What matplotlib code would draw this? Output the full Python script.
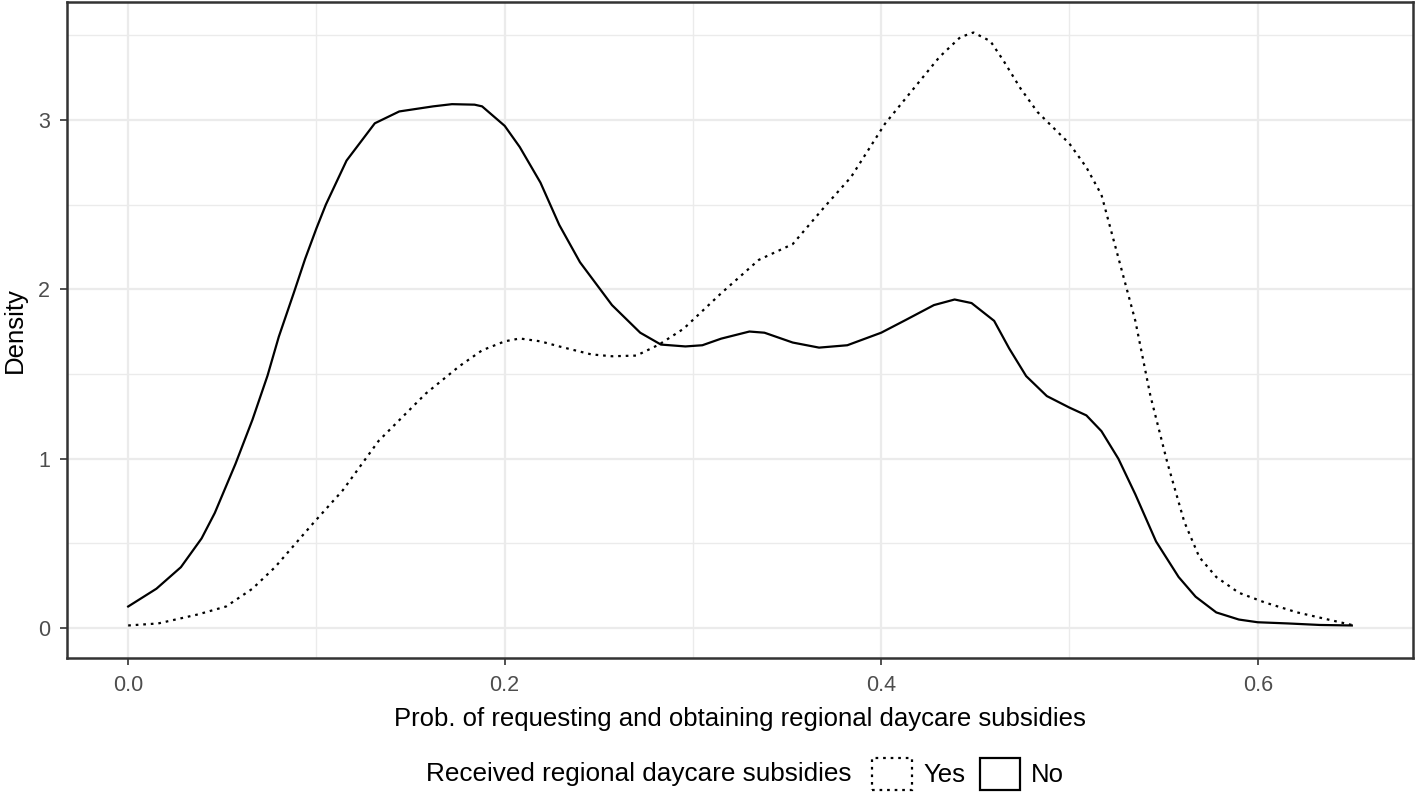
import matplotlib
matplotlib.use("Agg")
import matplotlib.pyplot as plt
from matplotlib.patches import Patch

plt.rcParams['font.family'] = ['Liberation Sans', 'DejaVu Sans']

# density curves
no_x = [0.0, 0.015, 0.028, 0.039, 0.046, 0.057, 0.066, 0.074, 0.080, 0.088,
        0.094, 0.100, 0.105, 0.116, 0.131, 0.144, 0.162, 0.172, 0.184, 0.188,
        0.200, 0.208, 0.219, 0.229, 0.240, 0.257, 0.272, 0.283, 0.296, 0.305,
        0.315, 0.330, 0.338, 0.353, 0.367, 0.382, 0.400, 0.413, 0.428, 0.439,
        0.448, 0.460, 0.468, 0.477, 0.488, 0.500, 0.509, 0.517, 0.526, 0.535,
        0.546, 0.558, 0.567, 0.578, 0.590, 0.600, 0.616, 0.633, 0.650]
no_y = [0.128, 0.233, 0.36, 0.53, 0.68, 0.97, 1.23, 1.49, 1.72, 1.98,
        2.18, 2.36, 2.5, 2.76, 2.98, 3.05, 3.08, 3.093, 3.09, 3.08,
        2.965, 2.84, 2.63, 2.38, 2.16, 1.907, 1.744, 1.674, 1.663, 1.67,
        1.709, 1.751, 1.744, 1.686, 1.656, 1.67, 1.744, 1.819, 1.907, 1.94,
        1.919, 1.814, 1.651, 1.488, 1.37, 1.302, 1.256, 1.163, 1.0, 0.79,
        0.512, 0.302, 0.186, 0.093, 0.051, 0.035, 0.028, 0.019, 0.016]

yes_x = [0.0, 0.016, 0.037, 0.052, 0.066, 0.078, 0.098, 0.114, 0.133, 0.158,
         0.176, 0.188, 0.200, 0.208, 0.219, 0.229, 0.246, 0.257, 0.270, 0.282,
         0.295, 0.315, 0.335, 0.353, 0.370, 0.384, 0.402, 0.419, 0.431, 0.442,
         0.449, 0.458, 0.465, 0.474, 0.483, 0.500, 0.509, 0.517, 0.526, 0.535,
         0.543, 0.552, 0.561, 0.569, 0.578, 0.590, 0.604, 0.621, 0.639, 0.650]
yes_y = [0.016, 0.028, 0.081, 0.128, 0.233, 0.36, 0.616, 0.814, 1.105, 1.384,
         1.547, 1.64, 1.693, 1.71, 1.693, 1.663, 1.616, 1.605, 1.609, 1.674,
         1.767, 1.977, 2.174, 2.267, 2.488, 2.663, 2.977, 3.209, 3.372, 3.488,
         3.516, 3.465, 3.349, 3.186, 3.047, 2.86, 2.72, 2.558, 2.186, 1.814,
         1.372, 0.977, 0.628, 0.419, 0.302, 0.209, 0.151, 0.093, 0.047, 0.019]

x_ticks = [0.0, 0.2, 0.4, 0.6]
x_labels = ['0.0', '0.2', '0.4', '0.6']
y_ticks = [0, 1, 2, 3]
legend_labels = ['Yes', 'No']

fig = plt.figure(figsize=(14.16, 7.94), dpi=100)
ax = fig.add_axes([67/1416, 1 - 658/794, (1413 - 67)/1416, (658 - 2)/794])

dotted = (0, (1.2, 2.2))
ax.plot(yes_x, yes_y, color='black', lw=1.6, linestyle=dotted)
ax.plot(no_x, no_y, color='black', lw=1.6)

ax.set_xlim(-0.0325, 0.6825)
ax.set_ylim(-0.176, 3.696)
ax.set_xticks(x_ticks)
ax.set_xticklabels(x_labels)
ax.set_yticks(y_ticks)
ax.set_xticks([0.1, 0.3, 0.5], minor=True)
ax.set_yticks([0.5, 1.5, 2.5, 3.5], minor=True)

ax.grid(which='major', color='#EBEBEB', lw=1.6)
ax.grid(which='minor', color='#EBEBEB', lw=1.0)
ax.set_axisbelow(True)
ax.tick_params(which='major', length=5, width=1.2, color='#333333',
               labelcolor='#4D4D4D', labelsize=15.5, pad=7)
ax.tick_params(which='minor', length=0)
for s in ax.spines.values():
    s.set_color('#333333')
    s.set_linewidth(1.8)

ax.set_xlabel('Prob. of requesting and obtaining regional daycare subsidies',
              fontsize=18.5, labelpad=8)
ax.set_ylabel('Density', fontsize=18.5, labelpad=8)

handles = [Patch(facecolor='white', edgecolor='black', linestyle=dotted, lw=1.6),
           Patch(facecolor='white', edgecolor='black', lw=1.6)]
fig.text(852/1416, 1 - 774/794, 'Received regional daycare subsidies',
         fontsize=18.8, ha='right', va='center')
fig.legend(handles, legend_labels, ncol=2, loc='center left',
           bbox_to_anchor=(862/1416, 1 - 774/794), frameon=False,
           fontsize=18.5, handlelength=1.55, handleheight=1.55,
           handletextpad=0.45, columnspacing=0.55, borderaxespad=0)

fig.savefig('out.png', dpi=100)
